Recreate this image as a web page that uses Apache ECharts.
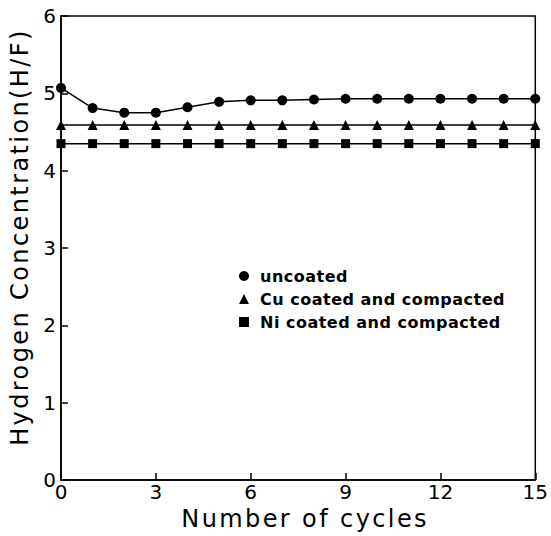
<!DOCTYPE html>
<html><head><meta charset="utf-8">
<script src="https://cdn.jsdelivr.net/npm/echarts@6/dist/echarts.min.js"></script>
<style>html,body{margin:0;padding:0;background:#fff}#c{width:551px;height:536px}</style>
</head><body><div id="c"></div>
<script>
const cycles = [0,1,2,3,4,5,6,7,8,9,10,11,12,13,14,15];
const uncoated = [5.07,4.81,4.75,4.75,4.82,4.89,4.91,4.91,4.92,4.93,4.93,4.93,4.93,4.93,4.93,4.93];
const cuCoated = [4.59,4.59,4.59,4.59,4.59,4.59,4.59,4.59,4.59,4.59,4.59,4.59,4.59,4.59,4.59,4.59];
const niCoated = [4.35,4.35,4.35,4.35,4.35,4.35,4.35,4.35,4.35,4.35,4.35,4.35,4.35,4.35,4.35,4.35];
const seriesNames = ['uncoated','Cu coated and compacted','Ni coated and compacted'];
const xTicks = [0,3,6,9,12,15];
const yTicks = [0,1,2,3,4,5,6];
const xName = 'Number of cycles';
const yName = 'Hydrogen Concentration(H/F)';

const F = 'DejaVu Sans';
const pair = arr => cycles.map((c,i)=>[c,arr[i]]);
const chart = echarts.init(document.getElementById('c'), null, {renderer:'svg'});
chart.setOption({
  animation:false,
  backgroundColor:'#fff',
  grid:{left:58,right:15,top:16,bottom:50,show:true,borderColor:'#000',borderWidth:1.5},
  legend:{
    orient:'vertical', left:234, top:263, itemWidth:10, itemHeight:10, itemGap:7,
    textStyle:{fontFamily:F,fontWeight:'bold',fontSize:16,color:'#000',lineHeight:16,padding:[0,0,0,6]},
    data:[{name:seriesNames[0],icon:'circle'},{name:seriesNames[1],icon:'triangle'},{name:seriesNames[2],icon:'rect'}]
  },
  xAxis:{
    type:'value', min:0, max:15, interval:3,
    name:xName, nameLocation:'middle', nameGap:26,
    nameTextStyle:{fontFamily:F,fontSize:24,color:'#000',padding:[0,0,0,14]},
    axisLine:{lineStyle:{color:'#000',width:1.5}},
    axisTick:{inside:true,length:7,lineStyle:{color:'#000',width:1.5}},
    axisLabel:{fontFamily:F,fontSize:20,color:'#000',margin:2,formatter:v=>xTicks.includes(v)?String(v):''},
    splitLine:{show:false}
  },
  yAxis:{
    type:'value', min:0, max:6, interval:1,
    name:yName, nameLocation:'middle', nameGap:29,
    nameTextStyle:{fontFamily:F,fontSize:24,color:'#000',padding:[0,0,0,22]},
    axisLine:{lineStyle:{color:'#000',width:1.5}},
    axisTick:{inside:true,length:7,lineStyle:{color:'#000',width:1.5}},
    axisLabel:{fontFamily:F,fontSize:20,color:'#000',margin:5,formatter:v=>yTicks.includes(v)?String(v):''},
    splitLine:{show:false}
  },
  series:[
    {name:seriesNames[0],type:'line',data:pair(uncoated),symbol:'circle',symbolSize:10,
     lineStyle:{color:'#000',width:1.5},itemStyle:{color:'#000'}},
    {name:seriesNames[1],type:'line',data:pair(cuCoated),symbol:'triangle',symbolSize:10,
     lineStyle:{color:'#000',width:1.5},itemStyle:{color:'#000'}},
    {name:seriesNames[2],type:'line',data:pair(niCoated),symbol:'rect',symbolSize:9,
     lineStyle:{color:'#000',width:1.5},itemStyle:{color:'#000'}}
  ]
});
document.querySelectorAll('#c text').forEach(t=>{
  const s = t.textContent;
  if (s === xName || s === yName) t.style.letterSpacing = '2.4px';
  else if (seriesNames.includes(s)) t.style.letterSpacing = '0.5px';
});
</script></body></html>
